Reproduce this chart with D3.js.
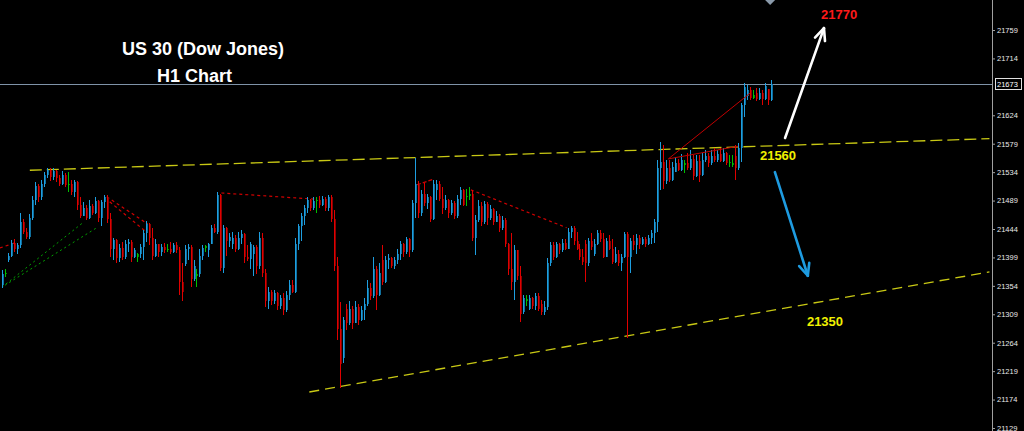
<!DOCTYPE html>
<html><head><meta charset="utf-8">
<script src="https://cdn.jsdelivr.net/npm/d3@7/dist/d3.min.js"></script>
<style>html,body{margin:0;padding:0;background:#000;overflow:hidden}svg{display:block}</style>
</head><body>
<svg id="chart" width="1024" height="431"></svg>
<script>
// ---- data (H1 candles, US30) ----
const opens = [
21355,21372,21395,21402,21422,21412,21418,21455,21440,21432,
21462,21490,21512,21494,21515,21530,21538,21526,21536,21524,
21516,21530,21514,21516,21502,21518,21482,21465,21478,21462,
21480,21470,21488,21462,21486,21494,21460,21412,21426,21398,
21414,21400,21420,21424,21400,21400,21404,21415,21438,21452,
21430,21402,21420,21408,21415,21410,21413,21408,21418,21410,
21360,21388,21412,21415,21365,21370,21372,21402,21414,21410,
21420,21445,21440,21498,21382,21445,21425,21420,21430,21412,
21430,21436,21400,21396,21405,21415,21385,21430,21375,21330,
21345,21330,21342,21322,21335,21316,21340,21355,21345,21420,
21448,21465,21478,21490,21478,21488,21490,21482,21492,21478,
21494,21460,21385,21285,21240,21318,21295,21318,21295,21320,
21300,21315,21325,21350,21338,21380,21340,21395,21360,21395,
21398,21385,21395,21405,21420,21408,21428,21410,21485,21515,
21470,21500,21485,21495,21460,21505,21515,21492,21478,21490,
21470,21485,21465,21492,21505,21494,21497,21500,21430,21458,
21480,21455,21484,21462,21475,21455,21465,21445,21458,21420,
21380,21360,21410,21370,21312,21330,21318,21335,21322,21338,
21325,21312,21320,21390,21418,21400,21420,21410,21422,21412,
21440,21445,21425,21412,21400,21420,21390,21425,21405,21420,
21438,21428,21400,21425,21412,21392,21405,21390,21400,21436,
21400,21425,21418,21430,21420,21428,21420,21430,21438,21455,
21540,21550,21520,21540,21522,21535,21548,21538,21545,21548,
21540,21555,21528,21552,21530,21554,21560,21548,21560,21553,
21562,21552,21565,21548,21545,21560,21540,21572,21640,21655,
21664,21652,21660,21650,21660,21650,21665,21648];
const highs = [
21379,21380,21406,21427,21428,21422,21469,21460,21446,21468,
21496,21518,21515,21522,21534,21541,21541,21540,21538,21530,
21536,21532,21534,21522,21522,21520,21495,21486,21482,21490,
21484,21494,21490,21490,21498,21498,21470,21430,21428,21420,
21424,21427,21428,21426,21414,21406,21420,21442,21456,21454,
21446,21428,21420,21420,21422,21420,21424,21422,21424,21416,
21390,21418,21420,21418,21395,21380,21412,21419,21419,21422,
21450,21452,21502,21500,21450,21447,21438,21440,21434,21440,
21442,21438,21418,21424,21418,21418,21440,21437,21380,21352,
21348,21348,21344,21340,21342,21346,21363,21363,21430,21452,
21470,21482,21494,21492,21494,21494,21496,21496,21494,21498,
21498,21474,21400,21328,21305,21325,21330,21322,21330,21326,
21322,21335,21363,21358,21400,21385,21390,21418,21402,21404,
21400,21400,21412,21425,21422,21432,21430,21490,21556,21520,
21505,21517,21500,21497,21522,21522,21520,21510,21498,21492,
21490,21488,21498,21510,21508,21508,21510,21506,21466,21490,
21486,21488,21486,21482,21478,21472,21468,21465,21462,21422,
21437,21418,21411,21385,21340,21340,21340,21337,21342,21342,
21332,21330,21398,21424,21424,21424,21422,21428,21428,21445,
21448,21448,21440,21420,21412,21427,21430,21437,21428,21442,
21442,21438,21430,21434,21428,21415,21410,21405,21440,21440,
21430,21434,21436,21434,21432,21432,21435,21443,21460,21553,
21582,21577,21553,21553,21550,21558,21555,21563,21553,21564,
21569,21561,21561,21561,21564,21569,21564,21569,21572,21569,
21572,21572,21566,21561,21561,21577,21580,21644,21675,21672,
21668,21664,21667,21667,21664,21675,21666,21680];
const lows = [
21351,21368,21392,21400,21408,21404,21414,21436,21428,21428,
21458,21482,21486,21490,21510,21524,21520,21522,21518,21512,
21514,21510,21503,21498,21494,21474,21461,21464,21458,21460,
21466,21468,21455,21448,21478,21454,21400,21395,21390,21392,
21395,21397,21408,21392,21398,21392,21398,21395,21424,21418,
21395,21400,21400,21402,21406,21408,21404,21406,21406,21340,
21330,21386,21395,21352,21362,21352,21368,21395,21408,21400,
21420,21437,21436,21377,21375,21402,21415,21412,21408,21410,
21420,21390,21394,21380,21370,21372,21380,21368,21320,21318,
21324,21325,21316,21318,21308,21312,21332,21343,21342,21410,
21425,21450,21470,21472,21474,21470,21478,21480,21472,21472,
21455,21378,21268,21192,21232,21284,21292,21285,21295,21292,
21298,21300,21322,21332,21335,21316,21338,21356,21358,21380,
21382,21380,21388,21395,21400,21405,21400,21408,21462,21461,
21465,21480,21475,21455,21458,21490,21488,21468,21474,21462,
21466,21460,21462,21482,21480,21480,21490,21425,21403,21455,
21448,21452,21450,21458,21450,21455,21440,21442,21415,21371,
21347,21332,21363,21297,21310,21322,21316,21318,21316,21314,
21308,21308,21316,21385,21395,21398,21405,21408,21410,21412,
21430,21418,21410,21395,21387,21360,21385,21410,21402,21418,
21424,21398,21400,21410,21388,21390,21385,21378,21398,21271,
21375,21410,21405,21412,21418,21416,21418,21420,21422,21440,
21506,21508,21515,21518,21520,21535,21536,21536,21532,21537,
21538,21522,21526,21519,21528,21550,21542,21546,21550,21550,
21550,21550,21545,21542,21542,21522,21538,21550,21622,21648,
21648,21650,21647,21648,21640,21648,21640,21646];
const closes = [
21372,21375,21402,21422,21412,21418,21455,21440,21432,21462,
21490,21512,21494,21515,21530,21538,21526,21536,21524,21516,
21530,21514,21516,21502,21518,21482,21465,21478,21462,21480,
21470,21488,21462,21486,21494,21460,21412,21426,21398,21414,
21400,21420,21424,21400,21410,21404,21415,21438,21452,21430,
21402,21420,21408,21415,21410,21413,21408,21418,21410,21360,
21345,21412,21415,21365,21385,21372,21402,21414,21417,21420,
21445,21440,21498,21382,21445,21425,21432,21430,21412,21430,
21436,21400,21396,21420,21415,21385,21430,21375,21330,21345,
21330,21342,21322,21335,21316,21340,21355,21345,21420,21448,
21465,21478,21490,21478,21488,21490,21482,21492,21478,21494,
21460,21385,21285,21230,21300,21295,21318,21295,21320,21300,
21315,21325,21350,21338,21380,21340,21375,21360,21395,21398,
21385,21395,21405,21420,21408,21428,21410,21485,21515,21470,
21500,21485,21495,21460,21515,21515,21492,21478,21490,21470,
21485,21465,21492,21505,21482,21497,21500,21430,21458,21480,
21455,21484,21462,21475,21455,21465,21445,21458,21420,21380,
21360,21410,21370,21310,21335,21333,21335,21322,21338,21318,
21312,21320,21390,21418,21400,21420,21410,21422,21412,21440,
21445,21425,21412,21400,21392,21390,21425,21415,21420,21438,
21428,21400,21425,21412,21392,21405,21390,21400,21436,21400,
21425,21418,21430,21420,21428,21420,21430,21438,21455,21540,
21550,21520,21540,21522,21542,21548,21538,21553,21548,21540,
21555,21528,21552,21530,21554,21560,21548,21560,21553,21562,
21552,21565,21548,21550,21548,21540,21572,21640,21668,21664,
21652,21656,21650,21660,21650,21670,21648,21673];
const dojiIndex = [1,22,45,55,65,68,105,155,156,175,228,243,244,251];
const priceTicks = [21759,21714,21624,21579,21534,21489,21444,21399,21354,21309,21264,21219,21174,21129];
const currentPrice = 21673;

// trend lines as [bar index, price]
const upperChannel = [[9.3,21537],[330,21587]];
const lowerChannel = [[102.7,21186],[330,21376]];
const greenDotted = [[[0,21352],[27.3,21455]], [[1,21355],[32,21447]]];
const redDotted = [[[-0.7,21414],[4.3,21422]], [[35,21495],[48.7,21452]], [[36,21487],[48.3,21439]],
                   [[73.3,21501],[105.3,21491]], [[156.7,21506],[188.7,21446]]];
const redShort = [[138.7,21514],[144.3,21523]];
const redSolid = [[[222.7,21555],[250,21659]], [[222.7,21555],[246,21575]]];
const upArrow = [[261.7,21588],[274.7,21762]];
const downArrow = [[258.3,21534],[269.3,21370]];
const targetLabels = [
  {text:"21770", at:[273.7,21776], color:"#ff1a1a"},
  {text:"21560", at:[253.3,21553], color:"#f0f000"},
  {text:"21350", at:[269,21290], color:"#f0f000"}];
const titleLines = ["US 30 (Dow Jones)", "H1 Chart"];

// ---- drawing ----
const svg = d3.select("#chart");
const W = 1024, H = 431, axisX = 992;
svg.append("rect").attr("width",W).attr("height",H).attr("fill","#000");

const x = d3.scaleLinear().domain([0, closes.length-1]).range([2, 771]);
const y = d3.scaleLinear().domain([21129, 21759]).range([428, 30]);

const bars = closes.map((c,i)=>({i, o:opens[i], h:highs[i], l:lows[i], c}));
const dojiSet = new Set(dojiIndex);
function col(d){
  if (dojiSet.has(d.i)) return ["#00c000","#009000"];
  return d.c >= d.o ? ["#1e9ee0","#10709e"] : ["#e00000","#8c0000"];
}

// current price line
svg.append("line").attr("x1",0).attr("x2",axisX).attr("y1",Math.round(y(currentPrice))+0.5).attr("y2",Math.round(y(currentPrice))+0.5)
  .attr("stroke","#7f93a8").attr("stroke-width",1);

// channel lines
const lineGen = d3.line().x(d=>x(d[0])).y(d=>y(d[1]));
svg.append("path").attr("d",lineGen(upperChannel)).attr("stroke","#c8c814").attr("stroke-width",1.3)
  .attr("stroke-dasharray","12,5").attr("fill","none");
svg.append("path").attr("d",lineGen(lowerChannel)).attr("stroke","#c8c814").attr("stroke-width",1.3)
  .attr("stroke-dasharray","10,6").attr("fill","none");

// dotted trendlines
greenDotted.forEach(s=>svg.append("path").attr("d",lineGen(s)).attr("stroke","#00a000").attr("stroke-width",1)
  .attr("stroke-dasharray","2,3").attr("fill","none"));
redDotted.forEach(s=>svg.append("path").attr("d",lineGen(s)).attr("stroke","#d00000").attr("stroke-width",1.2)
  .attr("stroke-dasharray","3,3").attr("fill","none"));
svg.append("path").attr("d",lineGen(redShort)).attr("stroke","#d00000").attr("stroke-width",1.2).attr("stroke-dasharray","4,2").attr("fill","none");

// candles
const g = svg.append("g").attr("shape-rendering","crispEdges");
bars.forEach(d=>{
  const cx = Math.round(x(d.i));
  const [bright, dark] = col(d);
  const yh = Math.round(y(d.h)), yl = Math.round(y(d.l));
  const yt = Math.round(y(Math.max(d.o,d.c))), yb = Math.round(y(Math.min(d.o,d.c)));
  g.append("rect").attr("x",cx).attr("y",yh).attr("width",1).attr("height",Math.max(1,yl-yh)).attr("fill",bright);
  g.append("rect").attr("x",cx+1).attr("y",yt).attr("width",1).attr("height",Math.max(1,yb-yt)).attr("fill",dark);
});

// red solid lines
redSolid.forEach(s=>svg.append("path").attr("d",lineGen(s)).attr("stroke","#c00000").attr("stroke-width",1).attr("fill","none"));

// arrows
function arrow(seg, color){
  const [p1,p2] = seg.map(d=>[x(d[0]), y(d[1])]);
  svg.append("line").attr("x1",p1[0]).attr("y1",p1[1]).attr("x2",p2[0]).attr("y2",p2[1])
    .attr("stroke",color).attr("stroke-width",2.6).attr("stroke-linecap","round");
  const ang = Math.atan2(p1[1]-p2[1], p1[0]-p2[0]);
  [0.42,-0.42].forEach(a=>{
    svg.append("line").attr("x1",p2[0]).attr("y1",p2[1])
      .attr("x2",p2[0]+13*Math.cos(ang+a)).attr("y2",p2[1]+13*Math.sin(ang+a))
      .attr("stroke",color).attr("stroke-width",2.6).attr("stroke-linecap","round");
  });
}
arrow(upArrow, "#ffffff");
arrow(downArrow, "#1e9be0");

// target labels
targetLabels.forEach(t=>svg.append("text").attr("x",x(t.at[0])).attr("y",y(t.at[1])).text(t.text)
  .attr("fill",t.color).attr("font-family","'Liberation Sans', Arial, sans-serif").attr("font-weight","bold").attr("font-size",13));

// title
svg.append("text").attr("x",122).attr("y",55).text(titleLines[0]).attr("fill","#fff")
  .attr("font-family","'Liberation Sans', Arial, sans-serif").attr("font-weight","bold").attr("font-size",18);
svg.append("text").attr("x",157).attr("y",82).text(titleLines[1]).attr("fill","#fff")
  .attr("font-family","'Liberation Sans', Arial, sans-serif").attr("font-weight","bold").attr("font-size",18);

// top marker triangle
const tx = x(256.7);
svg.append("path").attr("d",`M${tx-5},0L${tx+5},0L${tx},5Z`).attr("fill","#8a9aaa");

// right axis
svg.append("line").attr("x1",axisX+0.5).attr("x2",axisX+0.5).attr("y1",0).attr("y2",H).attr("stroke","#a0a0a0");
const axis = d3.axisRight(y).tickValues(priceTicks).tickSize(3).tickPadding(2).tickFormat(d3.format("d"));
const ag = svg.append("g").attr("transform",`translate(${axisX},0)`).call(axis);
ag.select(".domain").remove();
ag.selectAll(".tick line").attr("stroke","#a0a0a0");
ag.selectAll(".tick text").attr("fill","#e8e8e8").attr("font-family","'Liberation Sans', Arial, sans-serif").attr("font-size",7.5);

// current price box
const yp = y(currentPrice);
svg.append("rect").attr("x",995.5).attr("y",Math.round(yp)-5.5).attr("width",26).attr("height",11)
  .attr("fill","#000").attr("stroke","#e0e0e0").attr("stroke-width",1);
svg.append("text").attr("x",997).attr("y",yp).attr("dy","0.32em").text(d3.format("d")(currentPrice))
  .attr("fill","#ffffff").attr("font-family","'Liberation Sans', Arial, sans-serif").attr("font-size",7.5);
</script>
</body></html>
